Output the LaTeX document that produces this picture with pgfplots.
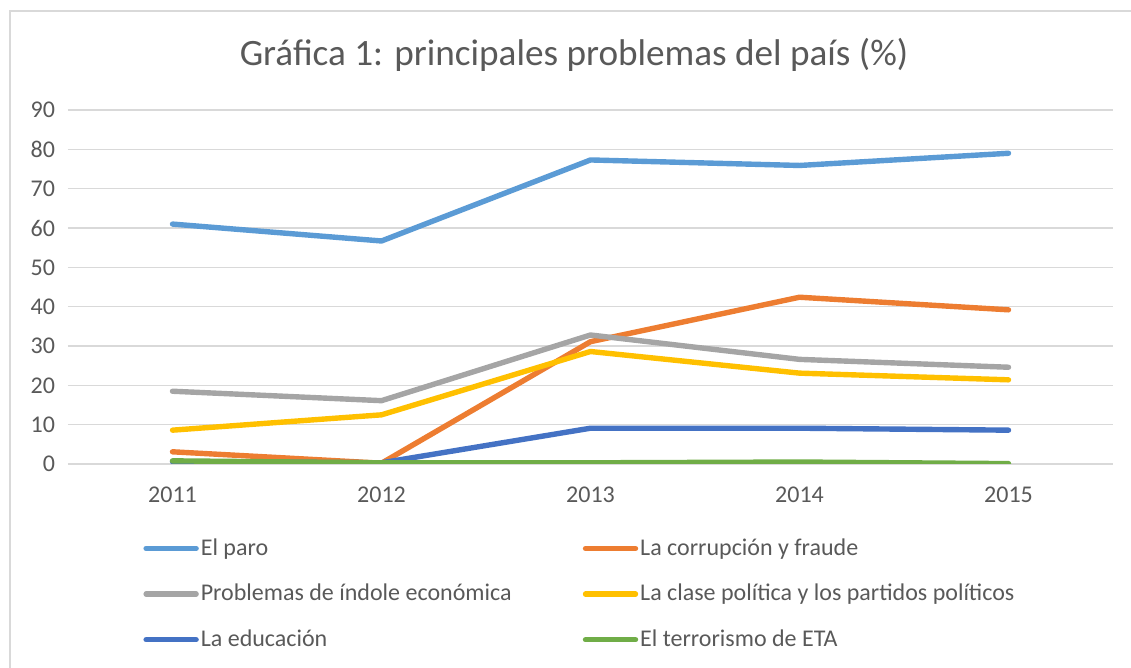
\documentclass[border=0pt]{standalone}
\usepackage{pgfplots}
\pgfplotsset{compat=1.18}
\usepackage{fontspec}
\setmainfont{Carlito}
\definecolor{txtc}{HTML}{595959}
\definecolor{gridc}{HTML}{D9D9D9}
\definecolor{cparo}{HTML}{5B9BD5}
\definecolor{ccorr}{HTML}{ED7D31}
\definecolor{cecon}{HTML}{A5A5A5}
\definecolor{cpol}{HTML}{FFC000}
\definecolor{cedu}{HTML}{4472C4}
\definecolor{ceta}{HTML}{70AD47}

\begin{document}
\begin{tikzpicture}
% page = 1131 x 668 px, 1px = 0.5pt
\useasboundingbox (0pt,0pt) rectangle (565.5pt,334pt);
\draw[gridc, line width=0.8pt] (5pt,-5pt) -- (5pt,328.5pt) -- (570pt,328.5pt);
\node[txtc, font=\fontsize{18.6}{22}\selectfont] at (287pt,306.5pt) {Gráfica 1: principales problemas del país (\%)};
\begin{axis}[
  at={(34pt,102pt)}, anchor=south west,
  scale only axis, width=522.5pt, height=177pt,
  xmin=-0.5, xmax=4.5, ymin=0, ymax=90,
  xtick={0,1,2,3,4}, xticklabels={2011,2012,2013,2014,2015},
  ytick={0,10,...,90},
  axis line style={draw=none},
  major tick length=0pt,
  xmajorgrids=false, ymajorgrids=true,
  grid style={draw=gridc, line width=0.8pt},
  tick label style={text=txtc, font=\fontsize{12}{14}\selectfont},
  /pgf/number format/assume math mode=true,
  xticklabel style={yshift=-8pt},
  yticklabel style={xshift=-3pt},
  legend columns=2,
  legend cell align=left,
  legend style={at={(axis description cs:0.0718,-0.204)}, anchor=north west,
    draw=none, fill=none, inner sep=0pt, row sep=11pt,
    font=\fontsize{12}{14}\selectfont, text=txtc,
    nodes={inner sep=1pt}},
  legend image code/.code={\draw[#1, line width=2.7pt, line cap=round] (0pt,0pt) -- (25pt,0pt);},
  every axis plot/.append style={line width=2.7pt, line cap=round, line join=round, mark=none},
]
\addplot[cparo] coordinates {(0,61.0) (1,56.7) (2,77.3) (3,75.9) (4,79.0)};
\addlegendentry{\makebox[190pt][l]{El paro}}
\addplot[ccorr] coordinates {(0,3.1) (1,0.2) (2,31.1) (3,42.4) (4,39.2)};
\addlegendentry{La corrupción y fraude}
\addplot[cecon] coordinates {(0,18.5) (1,16.1) (2,32.8) (3,26.6) (4,24.6)};
\addlegendentry{\makebox[190pt][l]{Problemas de índole económica}}
\addplot[cpol] coordinates {(0,8.6) (1,12.5) (2,28.6) (3,23.1) (4,21.4)};
\addlegendentry{La clase política y los partidos políticos}
\addplot[cedu] coordinates {(0,0.6) (1,0.3) (2,9.1) (3,9.1) (4,8.6)};
\addlegendentry{\makebox[190pt][l]{La educación}}
\addplot[ceta] coordinates {(0,0.8) (1,0.3) (2,0.3) (3,0.5) (4,0.1)};
\addlegendentry{El terrorismo de ETA}
\end{axis}
\end{tikzpicture}
\end{document}
